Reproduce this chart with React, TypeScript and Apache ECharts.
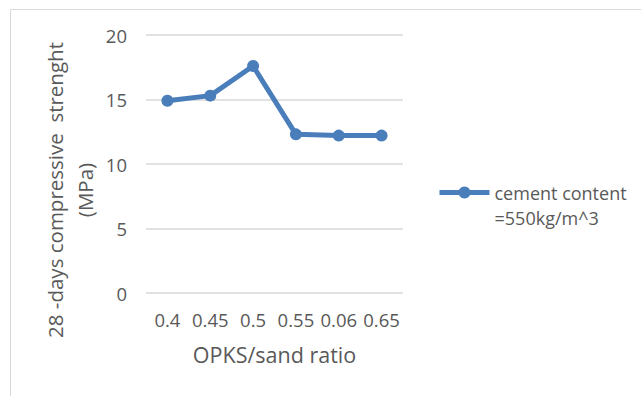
import React, { useEffect, useRef } from "react";
import * as echarts from "echarts";

const categories = ["0.4", "0.45", "0.5", "0.55", "0.06", "0.65"];
const strength = [14.9, 15.3, 17.6, 12.3, 12.2, 12.2];
const seriesName = "cement content\n=550kg/m^3";
const yTitle = "28 -days compressive  strenght\n(MPa)";
const xTitle = "OPKS/sand ratio";

const FONT = "Open Sans";
const TEXT = "#595959";
const BLUE = "#4a7ebb";

export default function App() {
  const ref = useRef<HTMLDivElement>(null);
  useEffect(() => {
    if (!ref.current) return;
    const chart = echarts.init(ref.current, null, { renderer: "svg" });
    chart.setOption({
      animation: false,
      backgroundColor: "#ffffff",
      textStyle: { fontFamily: FONT },
      graphic: [
        {
          type: "rect",
          shape: { x: 10.5, y: 9.5, width: 660, height: 420 },
          style: { fill: "none", stroke: "#d9d9d9", lineWidth: 1 },
          silent: true,
        },
        {
          type: "text",
          x: 70,
          y: 190,
          rotation: Math.PI / 2,
          silent: true,
          style: {
            text: yTitle,
            fill: TEXT,
            fontSize: 20.5,
            fontFamily: FONT,
            lineHeight: 30,
            align: "center",
            verticalAlign: "middle",
          },
        },
      ],
      grid: { left: 146, right: 238, top: 35, bottom: 103, containLabel: false },
      legend: {
        left: 437,
        top: 155,
        padding: 0,
        itemWidth: 50,
        itemHeight: 15,
        itemGap: 0,
        data: [seriesName],
        formatter: (name: string) => " \n" + name,
        lineStyle: { width: 5 },
        textStyle: {
          color: TEXT,
          fontSize: 18,
          fontFamily: FONT,
          lineHeight: 25,
        },
      },
      xAxis: {
        type: "category",
        data: categories,
        boundaryGap: true,
        axisLine: { show: false },
        axisTick: { show: false },
        axisLabel: { color: TEXT, fontSize: 18.5, fontFamily: FONT, margin: 17, interval: 0 },
        name: xTitle,
        nameLocation: "middle",
        nameGap: 50,
        nameTextStyle: { color: TEXT, fontSize: 21.5, fontFamily: FONT },
      },
      yAxis: {
        type: "value",
        min: 0,
        max: 20,
        interval: 5,
        axisLine: { show: false },
        axisTick: { show: false },
        splitLine: { lineStyle: { color: "#d9d9d9", width: 1.5 } },
        axisLabel: { color: TEXT, fontSize: 18.5, fontFamily: FONT, margin: 19 },
      },
      series: [
        {
          name: seriesName,
          type: "line",
          data: strength,
          symbol: "circle",
          symbolSize: 12,
          lineStyle: { color: BLUE, width: 5 },
          itemStyle: { color: BLUE },
        },
      ],
    });
    return () => chart.dispose();
  }, []);
  return (
    <div
      ref={ref}
      style={{ position: "fixed", left: 0, top: 0, width: 641, height: 396 }}
    />
  );
}
